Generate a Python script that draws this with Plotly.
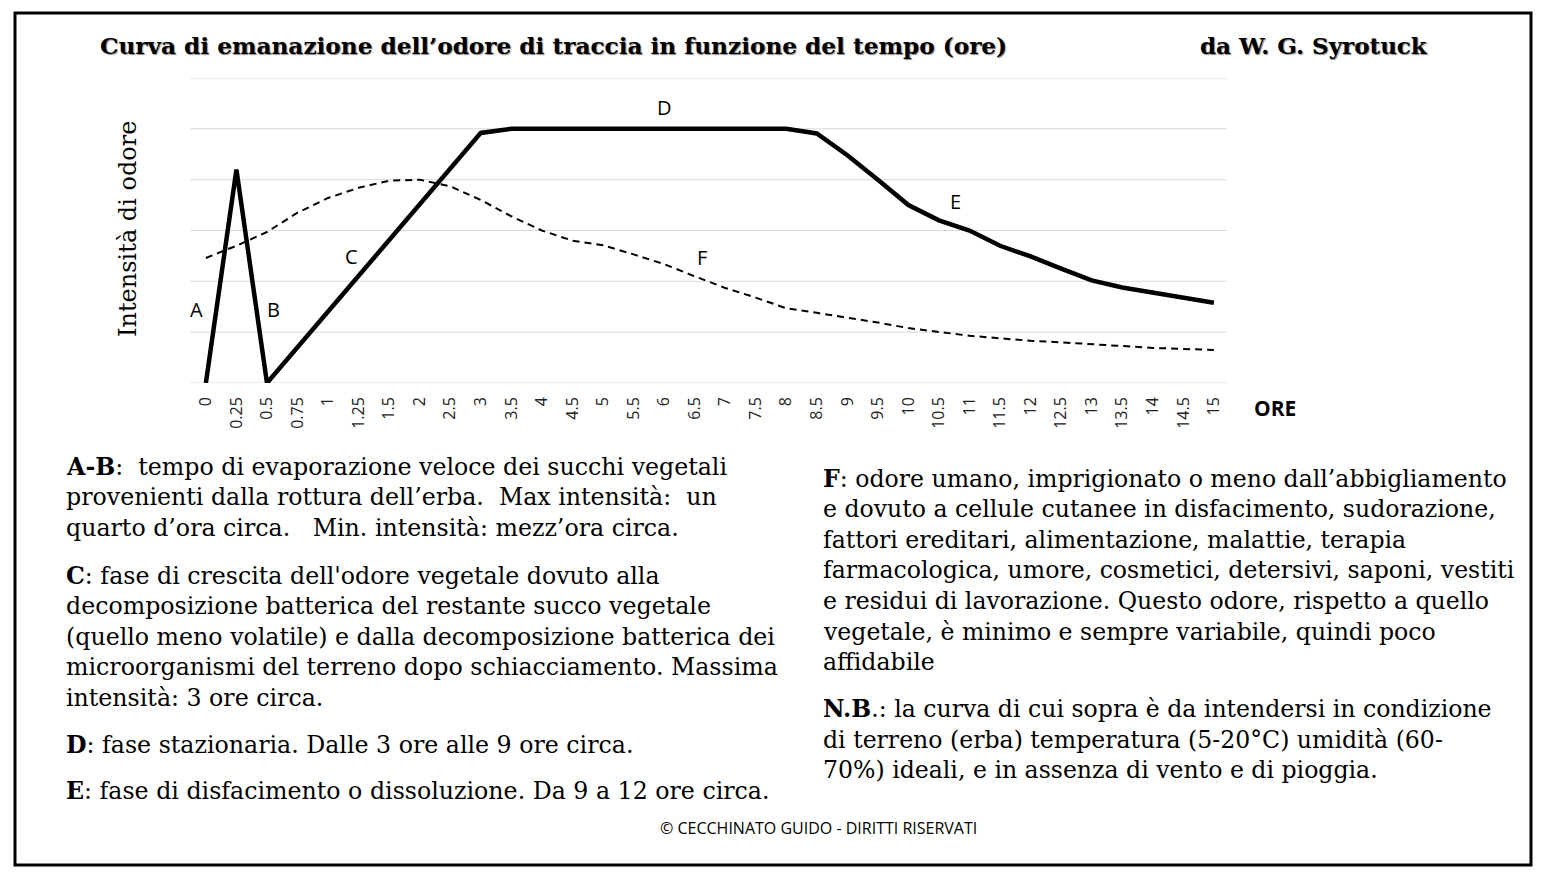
import plotly.graph_objects as go

# ---- data ----
ore = ["0", "0.25", "0.5", "0.75", "1", "1.25", "1.5", "2", "2.5", "3", "3.5", "4", "4.5",
       "5", "5.5", "6", "6.5", "7", "7.5", "8", "8.5", "9", "9.5", "10", "10.5", "11",
       "11.5", "12", "12.5", "13", "13.5", "14", "14.5", "15"]
odore_vegetale = [0.0, 4.2, 0.0, 0.70, 1.41, 2.11, 2.81, 3.51, 4.22, 4.92, 5.0, 5.0, 5.0,
                  5.0, 5.0, 5.0, 5.0, 5.0, 5.0, 5.0, 4.91, 4.48, 4.0, 3.5, 3.2, 3.0,
                  2.70, 2.49, 2.25, 2.02, 1.88, 1.78, 1.68, 1.58]
odore_umano = [2.46, 2.70, 2.97, 3.35, 3.64, 3.84, 3.98, 4.0, 3.87, 3.60, 3.28, 3.0, 2.80,
               2.71, 2.53, 2.34, 2.10, 1.87, 1.68, 1.47, 1.38, 1.29, 1.19, 1.08, 1.0, 0.93,
               0.88, 0.83, 0.80, 0.76, 0.72, 0.69, 0.67, 0.65]
griglia_y = [0, 1, 2, 3, 4, 5, 6]

W, H = 1545, 881
X0, X1, Y0, Y1 = 190, 1227, 78, 383   # plot area in pixels


def px(x):
    return (x - X0) / (X1 - X0)


def py(y):
    return (Y1 - y) / (Y1 - Y0)


fig = go.Figure()
fig.add_trace(go.Scatter(x=ore, y=odore_umano, mode="lines",
                         line=dict(color="black", width=2, dash="7px,5px"),
                         hoverinfo="skip", showlegend=False))
fig.add_trace(go.Scatter(x=ore, y=odore_vegetale, mode="lines",
                         line=dict(color="black", width=4.5),
                         hoverinfo="skip", showlegend=False))

SERIF = "DejaVu Serif"
SANS = "Open Sans"
ann = []


def txt(x, y, s, size, family, xanchor="left", color="black", angle=0, **kw):
    ann.append(dict(x=px(x), y=py(y), xref="paper", yref="paper", text=s,
                    showarrow=False, xanchor=xanchor, yanchor="middle",
                    font=dict(size=size, family=family, color=color, **kw),
                    textangle=angle))


# title
shadow = "1px 1px 1px #888"
txt(98, 45, "<b>Curva di emanazione dell’odore di traccia in funzione del tempo (ore)</b>",
    23.2, SERIF, shadow=shadow)
txt(1198, 45, "<b>da W. G. Syrotuck</b>", 23, SERIF, shadow=shadow)

# y axis title
txt(128, 229, "Intensità di odore", 24, SERIF, xanchor="center", angle=-90)

# segment labels
for lab, x, y in [("A", 196, 309), ("B", 273, 309), ("C", 351, 256),
                  ("D", 664, 107), ("E", 955, 201), ("F", 702, 257)]:
    txt(x, y, lab, 20, SANS, xanchor="center")

# x axis title
txt(1275, 408, "<b>ORE</b>", 21, SANS, xanchor="center")

NB = "\u00a0"
left_lines = [
    (467, "<b>A-B</b>:" + NB + " tempo di evaporazione veloce dei succhi vegetali"),
    (497, "provenienti dalla rottura dell’erba." + NB + " Max intensità:" + NB + " un"),
    (528, "quarto d’ora circa." + NB * 2 + " Min. intensità: mezz’ora circa."),
    (576, "<b>C</b>: fase di crescita dell'odore vegetale dovuto alla"),
    (606, "decomposizione batterica del restante succo vegetale"),
    (637, "(quello meno volatile) e dalla decomposizione batterica dei"),
    (667, "microorganismi del terreno dopo schiacciamento. Massima"),
    (698, "intensità: 3 ore circa."),
    (745, "<b>D</b>: fase stazionaria. Dalle 3 ore alle 9 ore circa."),
    (791, "<b>E</b>: fase di disfacimento o dissoluzione. Da 9 a 12 ore circa."),
]
right_lines = [
    (479, "<b>F</b>: odore umano, imprigionato o meno dall’abbigliamento"),
    (509, "e dovuto a cellule cutanee in disfacimento, sudorazione,"),
    (540, "fattori ereditari, alimentazione, malattie, terapia"),
    (570, "farmacologica, umore, cosmetici, detersivi, saponi, vestiti"),
    (601, "e residui di lavorazione. Questo odore, rispetto a quello"),
    (632, "vegetale, è minimo e sempre variabile, quindi poco"),
    (662, "affidabile"),
    (709, "<b>N.B</b>.: la curva di cui sopra è da intendersi in condizione"),
    (740, "di terreno (erba) temperatura (5-20°C) umidità (60-"),
    (770, "70%) ideali, e in assenza di vento e di pioggia."),
]
for y, s in left_lines:
    txt(64, y, s, 23.7, SERIF)
for y, s in right_lines:
    txt(821, y, s, 23.6, SERIF)

txt(818, 828, "© CECCHINATO GUIDO - DIRITTI RISERVATI", 16, SANS, xanchor="center")

shapes = [dict(type="line", xref="paper", x0=0, x1=1, yref="y", y0=g, y1=g,
               line=dict(color="#d9d9d9", width=1), layer="below") for g in griglia_y]
shapes.append(dict(type="rect", xref="paper", yref="paper",
                   x0=px(15), x1=px(1531), y0=py(13), y1=py(865),
                   line=dict(color="black", width=3), layer="above"))

fig.update_layout(
    width=W, height=H,
    margin=dict(l=X0, r=W - X1, t=Y0, b=H - Y1),
    paper_bgcolor="white", plot_bgcolor="white",
    annotations=ann,
    shapes=shapes,
    xaxis=dict(type="category", range=[-0.52, 33.43], showgrid=False, zeroline=False,
               showline=False, ticks="", tickangle=-90, ticklabelstandoff=10,
               tickfont=dict(family=SANS, size=16, color="#222")),
    yaxis=dict(range=[0, 6], showgrid=False,
               showticklabels=False, zeroline=False, showline=False, ticks=""),
)

fig.write_html("out.html", config={"displayModeBar": False},
               post_script="document.body.style.margin='0';")
